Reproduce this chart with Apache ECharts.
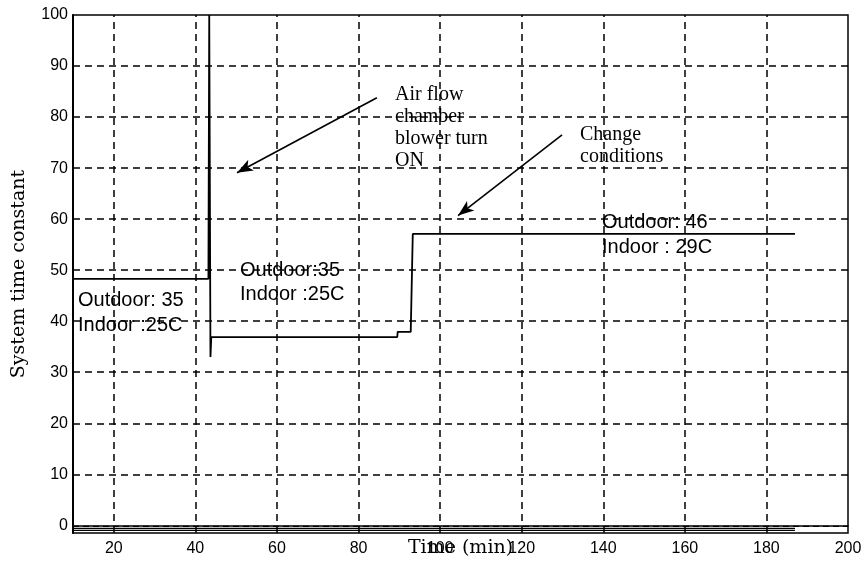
<!DOCTYPE html>
<html>
<head>
<meta charset="utf-8">
<script src="https://cdn.jsdelivr.net/npm/echarts@6/dist/echarts.min.js"></script>
<style>html,body{margin:0;padding:0;background:#fff}#c{width:865px;height:563px}</style>
</head>
<body>
<div id="c"></div>
<script>
// ---- data ----
const xTicks = [20, 40, 60, 80, 100, 120, 140, 160, 180, 200];
const yTicks = [0, 10, 20, 30, 40, 50, 60, 70, 80, 90, 100];
const xGrid = [20, 40, 60, 80, 100, 120, 140, 160, 180];
const yGrid = [10, 20, 30, 40, 50, 60, 70, 80, 90];

// main system time constant trace
const timeMain = [10, 43.2, 43.4, 43.7, 43.9, 44.3, 89.5, 89.6, 92.8, 93.3, 187];
const tauMain  = [48.3, 48.3, 100, 33, 36.9, 36.9, 36.9, 37.9, 37.9, 57.1, 57.1];

// traces lying near zero
const timeZeroA = [10, 187];
const tauZeroA  = [-0.6, -0.6];
const timeZeroB = [10, 200];
const tauZeroB  = [-0.2, -0.2];
const timeZeroC = [10, 187];
const tauZeroC  = [-1.0, -1.0];

// annotation arrows [from, to] in data units
const arrowAir    = [[84.5, 83.8], [50.2, 69.1]];
const arrowChange = [[129.9, 76.5], [104.4, 60.7]];

const zip = (a, b) => a.map((v, i) => [v, b[i]]);

const chart = echarts.init(document.getElementById('c'));
const dashed = {color: '#000', width: 1.5, type: [7, 5]};
const tickFont = {color: '#000', fontSize: 16, fontFamily: 'Liberation Sans'};

chart.setOption({
  animation: false,
  backgroundColor: '#fff',
  grid: {left: 73, right: 17, top: 15, bottom: 30, show: true, borderColor: '#000', borderWidth: 1.5,
         containLabel: false, outerBoundsMode: 'none'},
  xAxis: {
    type: 'value', min: 10, max: 200,
    axisLine: {lineStyle: {color: '#000', width: 1.5}},
    axisTick: {show: false},
    splitLine: {show: false},
    axisLabel: Object.assign({customValues: xTicks, margin: 8}, tickFont),
    name: 'Time (min)', nameLocation: 'middle', nameGap: 15, nameMoveOverlap: false,
    nameTextStyle: {fontFamily: 'DejaVu Serif', fontSize: 19, color: '#000', verticalAlign: 'middle'}
  },
  yAxis: {
    type: 'value', min: -1.5, max: 100,
    axisLine: {show: true, lineStyle: {color: '#000', width: 2}},
    axisTick: {show: false},
    splitLine: {show: false},
    axisLabel: Object.assign({customValues: yTicks, margin: 5}, tickFont),
    name: 'System time constant', nameLocation: 'middle', nameGap: 54, nameMoveOverlap: false,
    nameTextStyle: {fontFamily: 'DejaVu Serif', fontSize: 19, color: '#000', verticalAlign: 'middle'}
  },
  series: [
    {
      type: 'line', data: [], silent: true,
      markLine: {
        silent: true, symbol: 'none', animation: false,
        label: {show: false},
        lineStyle: dashed,
        data: xGrid.map(v => ({xAxis: v})).concat(yGrid.map(v => ({yAxis: v})))
      }
    },
    {type: 'line', data: zip(timeZeroB, tauZeroB), showSymbol: false, lineStyle: {color: '#000', width: 1.2, type: [6, 4]}},
    {type: 'line', data: zip(timeZeroA, tauZeroA), showSymbol: false, lineStyle: {color: '#000', width: 1.2}},
    {type: 'line', data: zip(timeZeroC, tauZeroC), showSymbol: false, lineStyle: {color: '#000', width: 1.2}},
    {
      type: 'line', data: zip(timeMain, tauMain), showSymbol: false,
      lineStyle: {color: '#000', width: 1.8},
      markLine: {
        silent: true, animation: false,
        symbol: ['none', 'arrow'], symbolSize: [9, 16],
        label: {show: false},
        lineStyle: {color: '#000', width: 1.6, type: 'solid'},
        data: [
          [{coord: arrowAir[0]}, {coord: arrowAir[1]}],
          [{coord: arrowChange[0]}, {coord: arrowChange[1]}]
        ]
      }
    }
  ],
  graphic: [
    {type: 'text', left: 395, top: 84, silent: true,
     style: {text: 'Air flow\nchamber\nblower turn\nON', font: '20px "Liberation Serif"', fill: '#000', lineHeight: 22}},
    {type: 'text', left: 580, top: 124, silent: true,
     style: {text: 'Change\nconditions', font: '20px "Liberation Serif"', fill: '#000', lineHeight: 22}},
    {type: 'text', left: 78, top: 288, silent: true,
     style: {text: 'Outdoor: 35\nIndoor :25C', font: '20px "Liberation Sans"', fill: '#000', lineHeight: 25}},
    {type: 'text', left: 240, top: 258, silent: true,
     style: {text: 'Outdoor:35\nIndoor :25C', font: '20px "Liberation Sans"', fill: '#000', lineHeight: 24}},
    {type: 'text', left: 602, top: 210, silent: true,
     style: {text: 'Outdoor: 46\nIndoor : 29C', font: '20px "Liberation Sans"', fill: '#000', lineHeight: 25}}
  ]
});
</script>
</body>
</html>
